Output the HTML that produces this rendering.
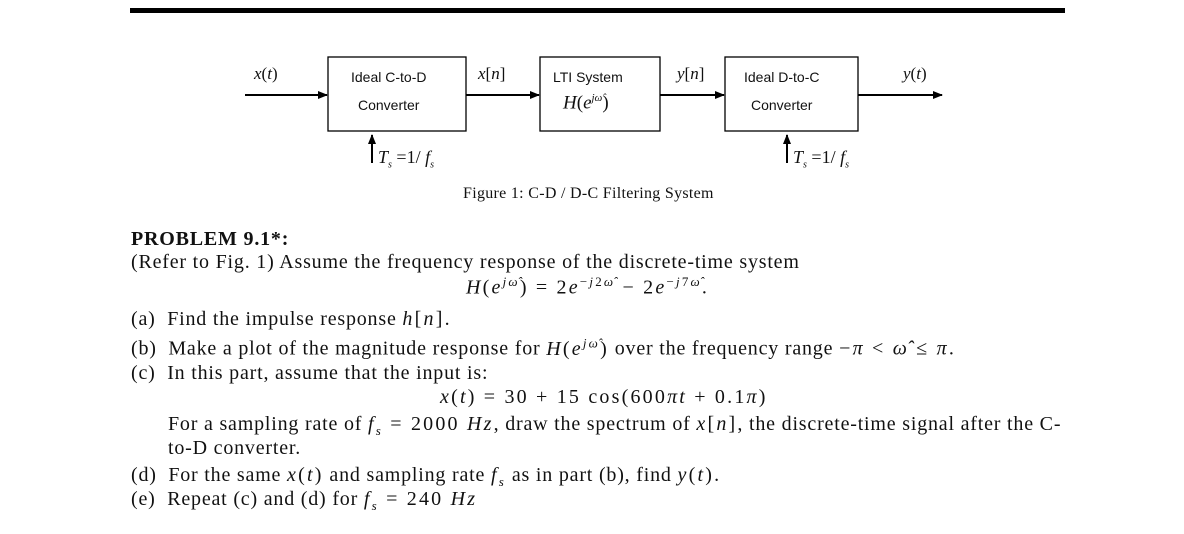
<!DOCTYPE html>
<html><head><style>
body{margin:0;width:1184px;height:534px;background:#fff;position:relative;overflow:hidden;font-family:"Liberation Serif",serif;color:#111}
.a{position:absolute;white-space:nowrap}
.s{font-family:"Liberation Sans",sans-serif;font-size:14px}
.t{font-size:20px;letter-spacing:0.8px}
.m{letter-spacing:2.2px}
i{font-style:italic}
</style></head><body>
<div class="a" style="left:130px;top:8px;width:935px;height:5px;background:#000"></div>
<svg class="a" style="left:0;top:0" width="1184" height="230">
<defs><marker id="m" markerWidth="10" markerHeight="8" refX="9" refY="4" orient="auto" markerUnits="userSpaceOnUse"><path d="M0,0 L10,4 L0,8z" fill="#000"/></marker></defs>
<g fill="none" stroke="#000" stroke-width="1.3">
<rect x="328" y="57" width="138" height="74"/>
<rect x="540" y="57" width="120" height="74"/>
<rect x="725" y="57" width="133" height="74"/>
</g>
<g stroke="#000" stroke-width="2" marker-end="url(#m)">
<line x1="245" y1="95" x2="327" y2="95"/>
<line x1="466" y1="95" x2="539" y2="95"/>
<line x1="660" y1="95" x2="724" y2="95"/>
<line x1="858" y1="95" x2="942" y2="95"/>
<line x1="372" y1="163" x2="372" y2="135"/>
<line x1="787" y1="163" x2="787" y2="135"/>
</g>
</svg>
<div class="a" style="left:254px;top:64px;font-size:17px"><i>x</i>(<i>t</i>)</div>
<div class="a" style="left:478px;top:64px;font-size:17px"><i>x</i>[<i>n</i>]</div>
<div class="a" style="left:677px;top:64px;font-size:17px"><i>y</i>[<i>n</i>]</div>
<div class="a" style="left:903px;top:64px;font-size:17px"><i>y</i>(<i>t</i>)</div>
<div class="a s" style="left:351px;top:69px">Ideal C-to-D</div>
<div class="a s" style="left:358px;top:97px">Converter</div>
<div class="a s" style="left:553px;top:69px">LTI System</div>
<div class="a" style="left:563px;top:92px;font-size:19px"><i>H</i>(<i>e</i><sup style="font-size:11px"><i>jω̂</i></sup>)</div>
<div class="a s" style="left:744px;top:69px">Ideal D-to-C</div>
<div class="a s" style="left:751px;top:97px">Converter</div>
<div class="a" style="left:378px;top:147px;font-size:18px"><i>T<sub style="font-size:10px">s</sub></i> =1/ <i>f<sub style="font-size:10px">s</sub></i></div>
<div class="a" style="left:793px;top:147px;font-size:18px"><i>T<sub style="font-size:10px">s</sub></i> =1/ <i>f<sub style="font-size:10px">s</sub></i></div>
<div class="a" style="left:463px;top:185px;font-size:16px;letter-spacing:0.3px">Figure 1: C-D / D-C Filtering System</div>
<div class="a t" style="left:131px;top:228px;font-weight:bold">PROBLEM 9.1*:</div>
<div class="a t" style="left:131px;top:251px">(Refer to Fig. 1) Assume the frequency response of the discrete-time system</div>
<div class="a t m" style="left:466px;top:274px"><i>H</i>(<i>e</i><sup style="font-size:13px"><i>jω̂</i></sup>) = 2<i>e</i><sup style="font-size:13px">−<i>j</i>2<i>ω̂</i></sup> − 2<i>e</i><sup style="font-size:13px">−<i>j</i>7<i>ω̂</i></sup>.</div>
<div class="a t" style="left:131px;top:308px">(a)&nbsp; Find the impulse response <span class="m"><i>h</i>[<i>n</i>]</span>.</div>
<div class="a t" style="left:131px;top:335px">(b)&nbsp; Make a plot of the magnitude response for <span class="m"><i>H</i>(<i>e</i><sup style="font-size:13px"><i>jω̂</i></sup>)</span> over the frequency range <span class="m">−<i>π</i> &lt; <i>ω̂</i> ≤ <i>π</i></span>.</div>
<div class="a t" style="left:131px;top:362px">(c)&nbsp; In this part, assume that the input is:</div>
<div class="a t m" style="left:440px;top:386px"><i>x</i>(<i>t</i>) = 30 + 15 cos(600<i>πt</i> + 0.1<i>π</i>)</div>
<div class="a t" style="left:168px;top:413px">For a sampling rate of <span class="m"><i>f<sub style="font-size:13px">s</sub></i> = 2000 <i>Hz</i></span>, draw the spectrum of <span class="m"><i>x</i>[<i>n</i>]</span>, the discrete-time signal after the C-</div>
<div class="a t" style="left:168px;top:437px">to-D converter.</div>
<div class="a t" style="left:131px;top:464px">(d)&nbsp; For the same <span class="m"><i>x</i>(<i>t</i>)</span> and sampling rate <span class="m"><i>f<sub style="font-size:13px">s</sub></i></span> as in part (b), find <span class="m"><i>y</i>(<i>t</i>)</span>.</div>
<div class="a t" style="left:131px;top:488px">(e)&nbsp; Repeat (c) and (d) for <span class="m"><i>f<sub style="font-size:13px">s</sub></i> = 240 <i>Hz</i></span></div>
</body></html>
